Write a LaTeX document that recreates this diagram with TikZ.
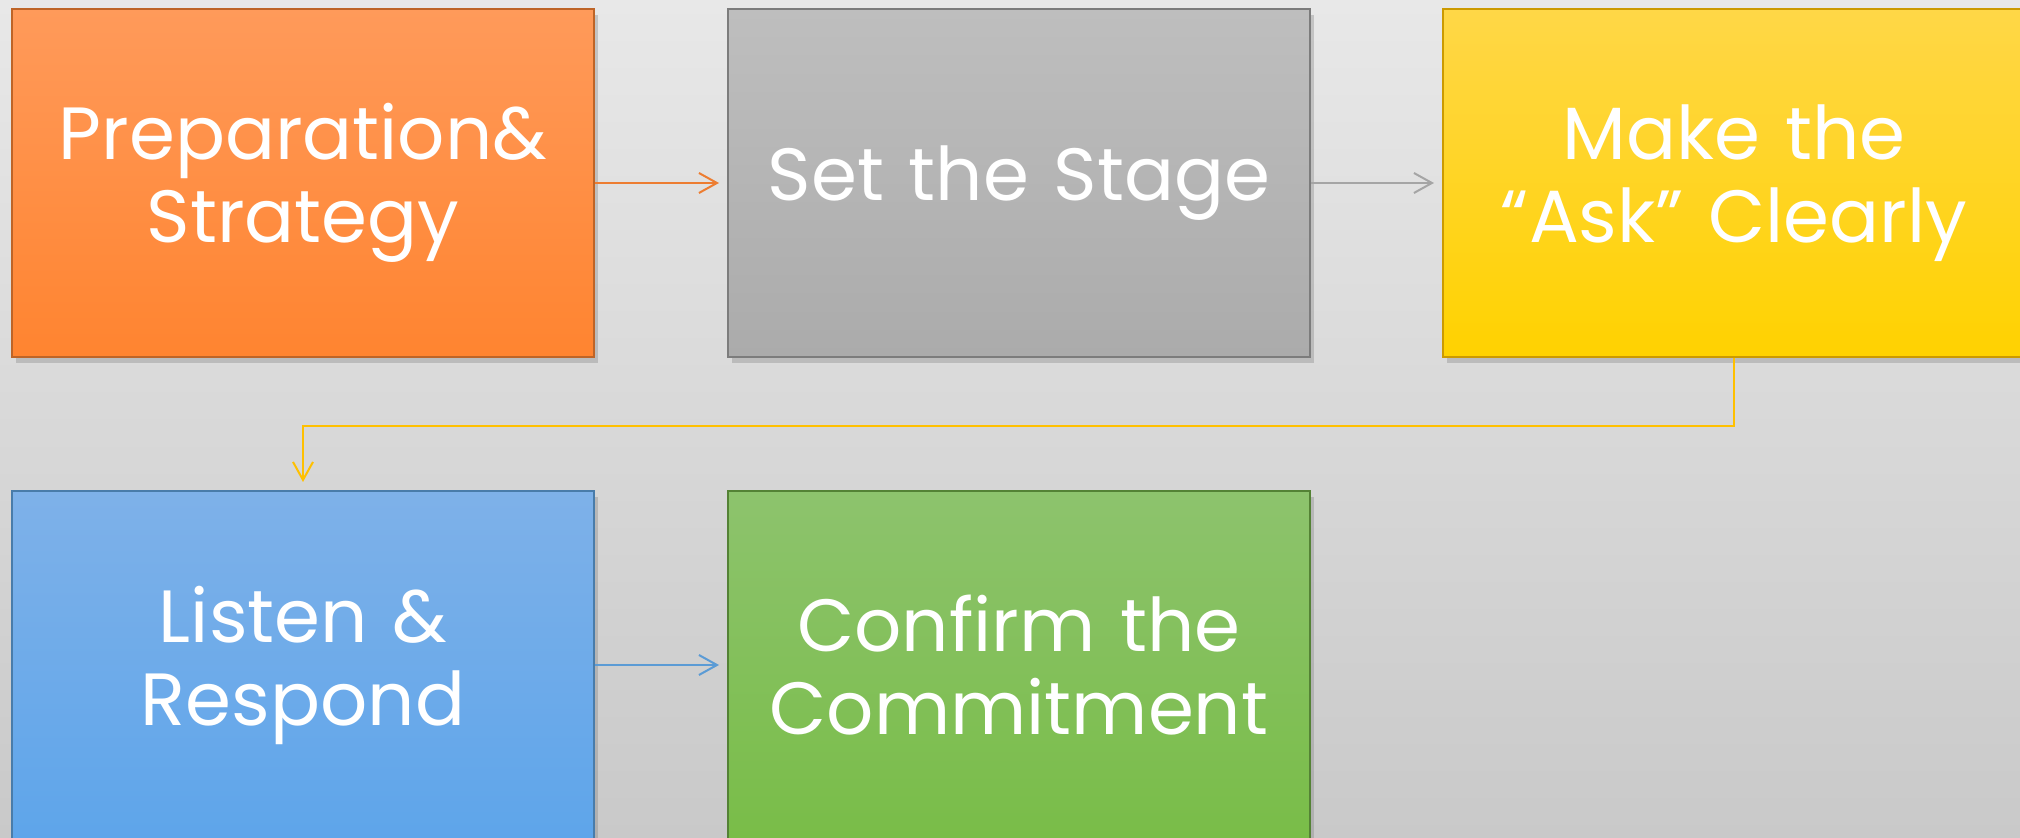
\documentclass[tikz,border=0pt]{standalone}
\usepackage{fontspec}
\setmainfont{Poppins}
\usetikzlibrary{arrows.meta,shadows}
\definecolor{fondoA}{HTML}{E8E8E8}
\definecolor{fondoB}{HTML}{C9C9C9}
\definecolor{naranja}{HTML}{ED7D31}
\definecolor{gris}{HTML}{A5A5A5}
\definecolor{amarillo}{HTML}{FFC000}
\definecolor{azul}{HTML}{5B9BD5}
\definecolor{verde}{HTML}{70AD47}
\definecolor{naranjaA}{HTML}{FF9A5A}
\definecolor{naranjaB}{HTML}{FF8430}
\definecolor{grisA}{HTML}{BEBEBE}
\definecolor{grisB}{HTML}{ABABAB}
\definecolor{amarilloA}{HTML}{FFD747}
\definecolor{amarilloB}{HTML}{FFD200}
\definecolor{azulA}{HTML}{7EB1E9}
\definecolor{azulB}{HTML}{5EA5EA}
\definecolor{verdeA}{HTML}{8DC36D}
\definecolor{verdeB}{HTML}{79BD48}
\tikzset{
  caja/.style={minimum width=291pt, minimum height=174pt, inner sep=0pt,
    text width=280pt, align=center, text=white, line width=1pt,
    font=\fontsize{37}{41.5}\selectfont,
    drop shadow={shadow xshift=2pt, shadow yshift=-3pt, opacity=0.35}},
  flecha/.style={line width=1pt, -{Straight Barb[length=9pt,width=10pt]}, shorten >=4pt}
}
\begin{document}
\begin{tikzpicture}[x=0.5pt,y=-0.5pt]
% Fondo
\path[use as bounding box, clip] (0,0) rectangle (2020,838);
\shade[top color=fondoA, bottom color=fondoB] (0,0) rectangle (2020,838);
% Fila 1
\node[caja, top color=naranjaA, bottom color=naranjaB, draw=naranja!80!black] (prep) at (303,183) {Preparation\&\\Strategy};
\node[caja, top color=grisA, bottom color=grisB, draw=gris!75!black] (stage) at (1019,183) {Set the Stage};
\node[caja, top color=amarilloA, bottom color=amarilloB, draw=amarillo!80!black] (ask) at (1734,183) {Make the\\``Ask'' Clearly};
% Fila 2
\node[caja, top color=azulA, bottom color=azulB, draw=azul!80!black] (listen) at (303,665) {Listen \&\\Respond};
\node[caja, top color=verdeA, bottom color=verdeB, draw=verde!75!black] (confirm) at (1019,665) {Confirm the\\Commitment};
% Flechas
\draw[flecha, naranja] (prep) -- (stage);
\draw[flecha, gris] (stage) -- (ask);
\draw[flecha, amarillo] (ask.south) -- ++(0,68) -| (listen.north);
\draw[flecha, azul] (listen) -- (confirm);
\end{tikzpicture}
\end{document}
